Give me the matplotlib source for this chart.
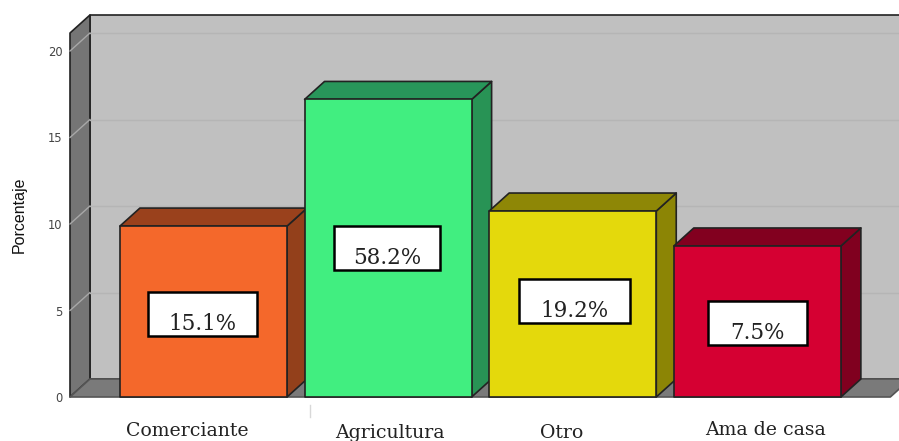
import matplotlib
matplotlib.use('Agg')
import matplotlib.pyplot as plt
from matplotlib.patches import Polygon, Rectangle

# data
categorias = ['Comerciante', 'Agricultura', 'Otro', 'Ama de casa']
valores = [9.88, 17.2, 10.75, 8.73]
etiquetas = ['15.1%', '58.2%', '19.2%', '7.5%']
y_ticks = [0, 5, 10, 15, 20]

# colours
frente = ['#F4682B', '#41EE80', '#E4D90C', '#D50032']
lateral = ['#93401B', '#289355', '#8C8505', '#80001F']
techo = ['#9A411C', '#28965A', '#8E8706', '#82001F']

# label boxes
etiqueta_y = [4.8, 8.6, 5.55, 4.28]
etiqueta_dx = [-0.005, -0.005, 0.01, 0.0]
etiqueta_w = [0.59, 0.575, 0.60, 0.54]
etiqueta_h = 2.55

# category text positions (x offset in bar units, y in points below the floor)
cat_dx = [-0.085, 0.01, -0.06, 0.045]
cat_y = [-24.5, -26, -26, -24]

ancho = 0.905
dx = 0.108
dy = 1.04
y_tope = 21.04
x_izq = -0.723
x_der = 3.72

fig = plt.figure(figsize=(8.99, 4.41), dpi=100)
ax = fig.add_axes([70 / 899, 44 / 441, 829 / 899, 397 / 441])
ax.set_xlim(-0.723, 3.767)
ax.set_ylim(0, 397 / 17.3)
for s in ax.spines.values():
    s.set_visible(False)
ax.patch.set_alpha(0)


def poli(puntos, color, borde='#222222', lw=1.2, z=1):
    ax.add_patch(Polygon(puntos, closed=True, facecolor=color, edgecolor=borde,
                         linewidth=lw, zorder=z, clip_on=False, joinstyle='round'))


# back wall, left wall, floor
poli([(x_izq + dx, dy), (x_der + dx, dy), (x_der + dx, y_tope + dy), (x_izq + dx, y_tope + dy)], '#C0C0C0')
poli([(x_izq, 0), (x_izq + dx, dy), (x_izq + dx, y_tope + dy), (x_izq, y_tope)], '#757575')
poli([(x_izq, 0), (x_der, 0), (x_der + dx, dy), (x_izq + dx, dy)], '#7A7A7A', borde='#555555')

# grid on both walls
for t in y_ticks[1:]:
    ax.plot([x_izq + dx, x_der + dx], [t + dy, t + dy], color='#B5B5B5', lw=1, zorder=2, clip_on=False)
    ax.plot([x_izq, x_izq + dx], [t, t + dy], color='#A8A8A8', lw=1, zorder=2, clip_on=False)

# bars
for i, v in enumerate(valores):
    x0 = i - ancho / 2
    x1 = i + ancho / 2
    z = 3 + i
    poli([(x1, 0), (x1 + dx, dy), (x1 + dx, v + dy), (x1, v)], lateral[i], z=z)
    poli([(x0, v), (x1, v), (x1 + dx, v + dy), (x0 + dx, v + dy)], techo[i], z=z)
    poli([(x0, 0), (x1, 0), (x1, v), (x0, v)], frente[i], z=z)

    # label box
    cx = i + etiqueta_dx[i]
    ax.add_patch(Rectangle((cx - etiqueta_w[i] / 2, etiqueta_y[i] - etiqueta_h / 2),
                           etiqueta_w[i], etiqueta_h, facecolor='white', edgecolor='black',
                           linewidth=1.8, zorder=10))
    ax.text(cx, etiqueta_y[i] - etiqueta_h / 2 + 0.08, etiquetas[i], ha='center', va='bottom',
            family='DejaVu Serif', fontsize=15.5, color='#222222', zorder=11)

ax.set_xticks([])
ax.set_yticks(y_ticks)
ax.tick_params(axis='y', length=0, pad=5.5, labelsize=8.3, labelcolor='#444444')

# category names under the floor
for i, c in enumerate(categorias):
    ax.annotate(c, (i + cat_dx[i], 0), xytext=(0, cat_y[i]), textcoords='offset points',
                ha='center', va='center', family='DejaVu Serif', fontsize=13.6,
                color='#222222', annotation_clip=False)

# small separator tick below the floor
ax.plot([0.575, 0.575], [-0.46, -1.15], color='#D8D8D8', lw=1, clip_on=False)

ax.set_ylim(0, 397 / 17.3)
fig.text(19 / 899, 1 - 215 / 441, 'Porcentaje', rotation=90, ha='center', va='center',
         family='Liberation Sans', fontsize=11.5, color='#111111')

fig.savefig('out.png', dpi=100)
